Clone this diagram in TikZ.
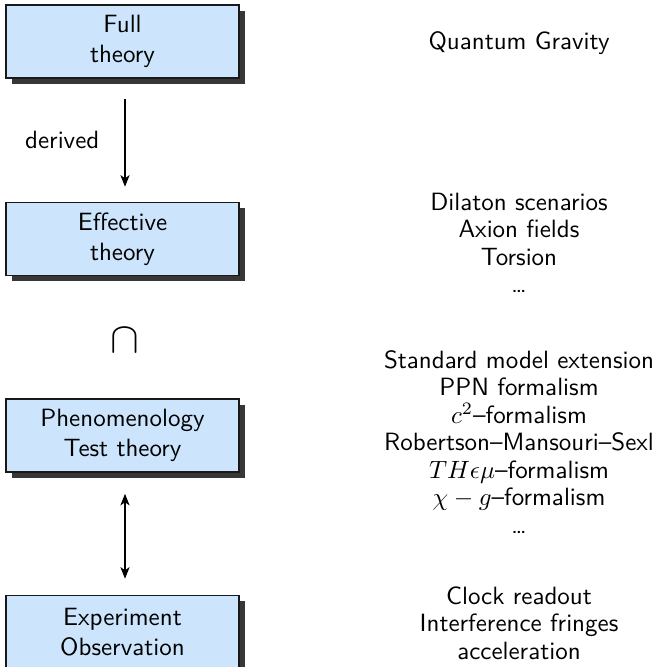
\documentclass[tikz,border=0pt]{standalone}
\usetikzlibrary{arrows.meta,shadows}
\definecolor{boxblue}{RGB}{204,229,252}
\definecolor{shadowgray}{RGB}{55,55,55}
\begin{document}
\begin{tikzpicture}[x=0.4pt,y=-0.4pt,
  font=\sffamily,
  levelbox/.style={draw=black!90, line width=0.6pt, fill=boxblue,
    minimum width=93.2pt, minimum height=29.2pt, align=center, inner sep=0pt,
    font=\sffamily\fontsize{10}{12}\selectfont,
    drop shadow={shadow xshift=2.4pt, shadow yshift=-2.2pt, fill=shadowgray, opacity=1}},
  sidetext/.style={align=center, font=\sffamily\fontsize{10}{11}\selectfont, inner sep=0pt},
  conn/.style={line width=0.9pt, -{Stealth[length=4.6pt,width=3.6pt,inset=1.2pt]}},
  dconn/.style={line width=0.9pt, {Stealth[length=4.6pt,width=3.6pt,inset=1.2pt]}-{Stealth[length=4.6pt,width=3.6pt,inset=1.2pt]}}
]
\useasboundingbox (0,0) rectangle (656,667);

\node[levelbox] (full) at (122.5,41.5) {Full\\theory};
\node[levelbox] (eff) at (122.5,239) {Effective\\theory};
\node[levelbox] (pheno) at (122.5,435.5) {Phenomenology\\Test theory};
\node[levelbox] (exp) at (122.5,632) {Experiment\\Observation};

\draw[conn, shorten <=8pt, shorten >=6pt] ([xshift=1pt]full.south) -- node[left=6.5pt, font=\sffamily\fontsize{10}{12}\selectfont] (derived) {derived} ([xshift=1pt]eff.north);
\node (cap) at (125,340) {\LARGE$\cap$};
\draw[dconn, shorten <=8.4pt, shorten >=6.4pt] ([xshift=1pt]pheno.south) -- ([xshift=1pt]exp.north);

\node[sidetext] (qg) at (519,43) {Quantum Gravity};
\node[sidetext] (effl) at (519,243) {Dilaton scenarios\\Axion fields\\Torsion\\\dots};
\node[sidetext] (phenol) at (519,442) {Standard model extension\\PPN formalism\\$c^2$--formalism\\Robertson--Mansouri--Sexl\\$TH\epsilon\mu$--formalism\\$\chi-g$--formalism\\\dots};
\node[sidetext] (expl) at (519,623) {Clock readout\\Interference fringes\\acceleration};
\end{tikzpicture}
\end{document}
